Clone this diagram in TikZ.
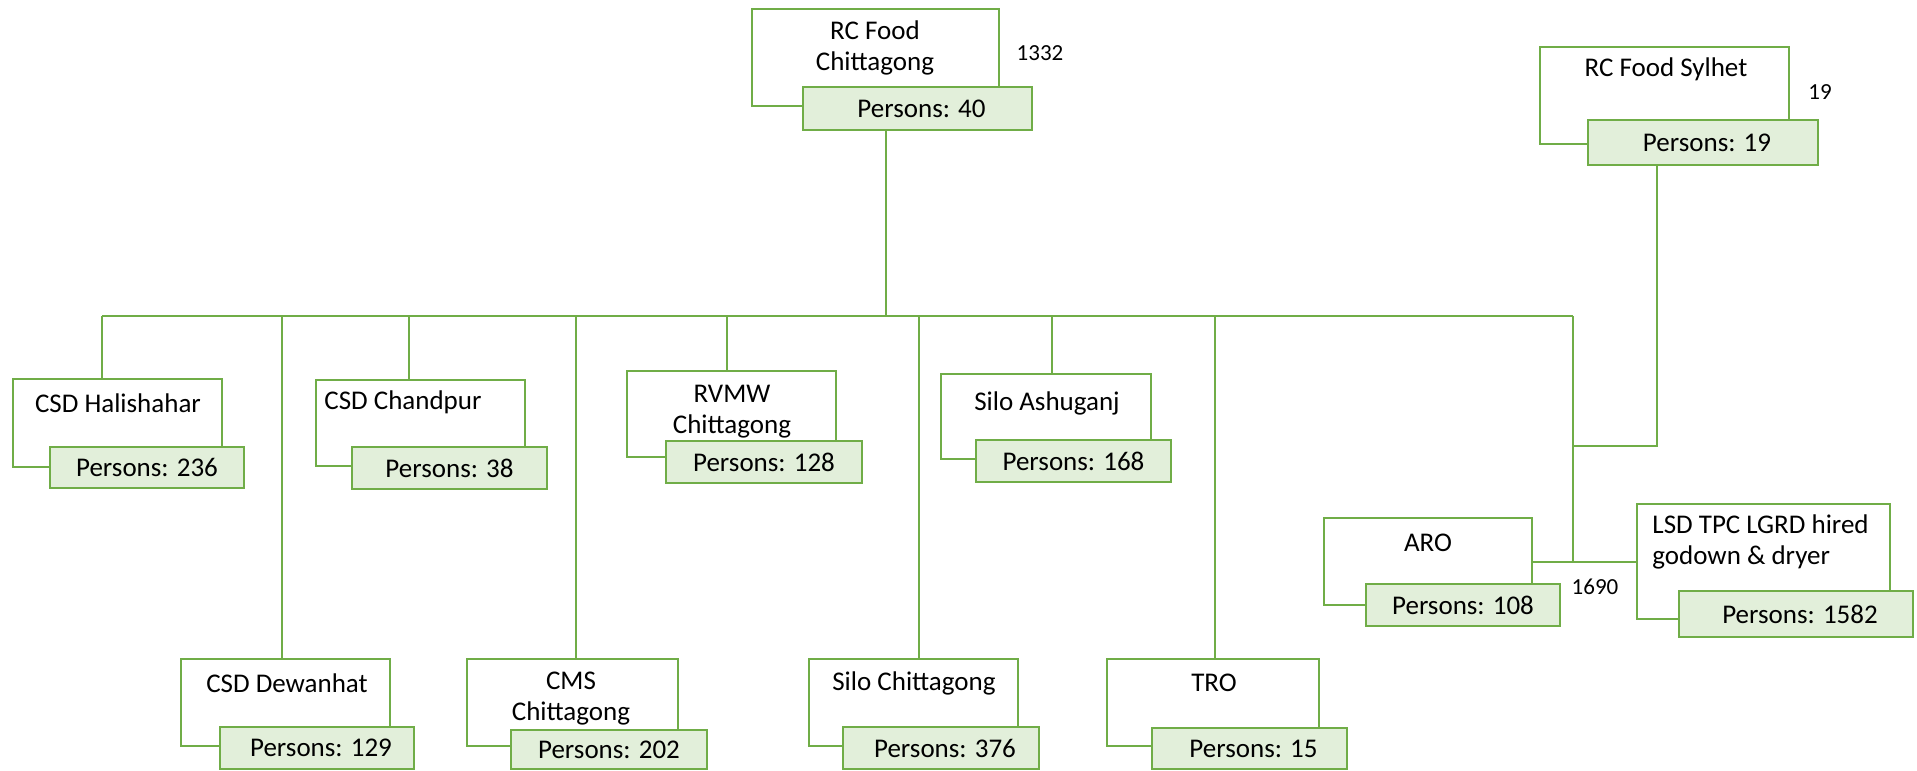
\documentclass[tikz,border=0pt]{standalone}
\usepackage{fontspec}
\setmainfont{Carlito}
\usetikzlibrary{fit,backgrounds}
\definecolor{orgline}{HTML}{70AD47}
\definecolor{orgfill}{HTML}{E2EFDA}
\tikzset{
  namebox/.style={draw=orgline, line width=1pt, fill=white, inner sep=0pt},
  countbox/.style={draw=orgline, line width=1pt, fill=orgfill, inner sep=0pt},
  lbl/.style={inner sep=0pt, font=\fontsize{13.5}{15.5}\selectfont, align=center},
  total/.style={inner sep=0pt, font=\fontsize{11.5}{13}\selectfont},
  link/.style={draw=orgline, line width=1pt},
}
\begin{document}
\begin{tikzpicture}[x=0.5pt, y=-0.5pt]
\useasboundingbox (0,0) rectangle (1917,771);

% regional offices
\node[namebox, fit={(752,9) (999,106)}] (rcc) {};
\node[countbox, fit={(803,87) (1032,130)}] (rccP) {};
\node[lbl] (rccC) at ([xshift=2pt]rccP.center) {Persons: 40};
\node[lbl] (rccT) at (875,48) {RC Food\\Chittagong};
\node[total] (rccN) at (1040,53) {1332};

\node[namebox, fit={(1540,47) (1789,144)}] (rcs) {};
\node[countbox, fit={(1588,120) (1818,165)}] (rcsP) {};
\node[lbl] (rcsC) at ([xshift=2pt]rcsP.center) {Persons: 19};
\node[lbl] (rcsT) at (1666,69) {RC Food Sylhet};
\node[total] (rcsN) at (1820,92) {19};

% upper row of units
\node[namebox, fit={(13,379) (222,467)}] (hal) {};
\node[countbox, fit={(50,447) (244,488)}] (halP) {};
\node[lbl] (halC) at (halP.center) {Persons: 236};
\node[lbl] (halT) at (118,403) {CSD Halishahar};

\node[namebox, fit={(316,380) (525,466)}] (chd) {};
\node[countbox, fit={(352,447) (547,489)}] (chdP) {};
\node[lbl] (chdC) at (chdP.center) {Persons: 38};
\node[lbl] (chdT) at (403,402) {CSD Chandpur};

\node[namebox, fit={(627,371) (836,457)}] (rvm) {};
\node[countbox, fit={(666,441) (862,483)}] (rvmP) {};
\node[lbl] (rvmC) at (rvmP.center) {Persons: 128};
\node[lbl] (rvmT) at (732,412) {RVMW\\Chittagong};

\node[namebox, fit={(941,374) (1151,459)}] (ash) {};
\node[countbox, fit={(976,440) (1171,482)}] (ashP) {};
\node[lbl] (ashC) at (ashP.center) {Persons: 168};
\node[lbl] (ashT) at (1047,403) {Silo Ashuganj};

% right-hand units
\node[namebox, fit={(1324,518) (1532,605)}] (aro) {};
\node[countbox, fit={(1366,584) (1560,626)}] (aroP) {};
\node[lbl] (aroC) at (aroP.center) {Persons: 108};
\node[lbl] (aroT) at (1428,543) {ARO};

\node[namebox, fit={(1637,504) (1890,619)}] (lsd) {};
\node[countbox, fit={(1679,591) (1913,637)}] (lsdP) {};
\node[lbl] (lsdC) at ([xshift=2pt]lsdP.center) {Persons: 1582};
\node[lbl, align=left, anchor=west] (lsdT) at (1652,542) {LSD TPC LGRD hired\\godown \& dryer};
\node[total] (lsdN) at (1595,587) {1690};

% lower row of units
\node[namebox, fit={(181,659) (390,746)}] (dew) {};
\node[countbox, fit={(220,727) (414,769)}] (dewP) {};
\node[lbl] (dewC) at ([xshift=2pt]dewP.center) {Persons: 129};
\node[lbl] (dewT) at (287,683) {CSD Dewanhat};

\node[namebox, fit={(467,659) (678,746)}] (cms) {};
\node[countbox, fit={(511,730) (707,769)}] (cmsP) {};
\node[lbl] (cmsC) at (cmsP.center) {Persons: 202};
\node[lbl] (cmsT) at (571,699) {CMS\\Chittagong};

\node[namebox, fit={(809,659) (1018,746)}] (slc) {};
\node[countbox, fit={(843,727) (1039,769)}] (slcP) {};
\node[lbl] (slcC) at ([xshift=2pt]slcP.center) {Persons: 376};
\node[lbl] (slcT) at (914,683) {Silo Chittagong};

\node[namebox, fit={(1107,659) (1319,746)}] (tro) {};
\node[countbox, fit={(1152,728) (1347,769)}] (troP) {};
\node[lbl] (troC) at ([xshift=2pt]troP.center) {Persons: 15};
\node[lbl] (troT) at (1214,683) {TRO};

% junction points on the distribution bus
\coordinate (busL) at (102,316);
\coordinate (busR) at (1573,316);
\coordinate (hub)  at (886,316);
\coordinate (bDew) at (282,316);
\coordinate (bChd) at (409,316);
\coordinate (bCms) at (576,316);
\coordinate (bRvm) at (727,316);
\coordinate (bSlc) at (919,316);
\coordinate (bAsh) at (1052,316);
\coordinate (bTro) at (1215,316);
\coordinate (syK)  at (1657,446);
\coordinate (syJ)  at (1573,446);

\begin{scope}[on background layer]
  \fill[white] (0,0) rectangle (1917,771);
  \draw[link] (hub |- rccP.south) -- (hub);
  \draw[link] (busL) -- (busR);
  \draw[link] (busL) -- (busL |- hal.north);
  \draw[link] (bChd) -- (bChd |- chd.north);
  \draw[link] (bRvm) -- (bRvm |- rvm.north);
  \draw[link] (bAsh) -- (bAsh |- ash.north);
  \draw[link] (bDew) -- (bDew |- dew.north);
  \draw[link] (bCms) -- (bCms |- cms.north);
  \draw[link] (bSlc) -- (bSlc |- slc.north);
  \draw[link] (bTro) -- (bTro |- tro.north);
  \draw[link] (busR) -- (busR |- aro.east);
  \draw[link] (syK |- rcsP.south) -- (syK) -- (syJ);
  \draw[link] (aro.east) -- ([xshift=3pt]lsd.west);
\end{scope}
\end{tikzpicture}
\end{document}
